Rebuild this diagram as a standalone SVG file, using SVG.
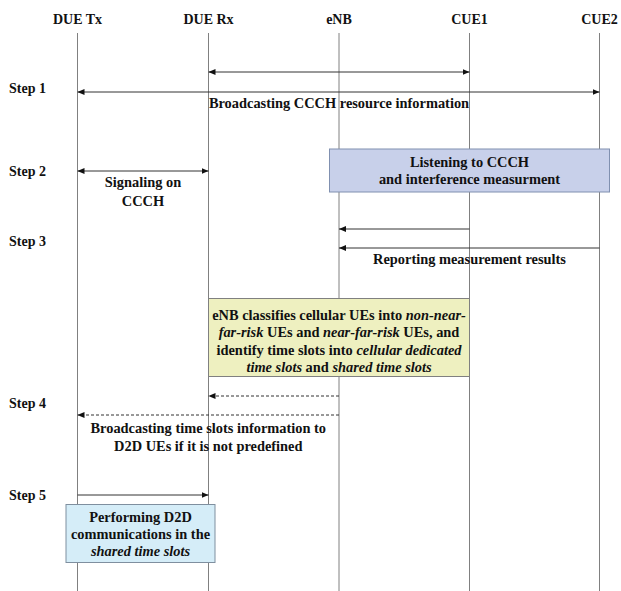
<svg xmlns="http://www.w3.org/2000/svg" width="621" height="591" viewBox="0 0 621 591">
<style>
text{font-family:"Liberation Serif","Times New Roman",serif;font-weight:bold;fill:#111;}
.hd{font-size:14px;text-anchor:middle;}
.st{font-size:14px;}
.tx{font-size:14.4px;text-anchor:middle;}
.life{stroke:#808080;stroke-width:1;fill:none;}
.msg{stroke:#333;stroke-width:1;fill:none;}
.dash{stroke-dasharray:3 2;}
.it{font-style:italic;}
</style>
<defs>
<marker id="ah" viewBox="0 0 7 6" refX="7" refY="3" markerWidth="7" markerHeight="6" markerUnits="userSpaceOnUse" orient="auto-start-reverse">
<path d="M0,0 L7,3 L0,6 z" fill="#111"/>
</marker>
</defs>
<rect width="621" height="591" fill="#fff"/>
<g id="lifelines">
<g id="due-tx"><text class="hd" x="77.5" y="24">DUE Tx</text><line class="life" x1="77.5" y1="33" x2="77.5" y2="591"/></g>
<g id="due-rx"><text class="hd" x="208.5" y="24">DUE Rx</text><line class="life" x1="208.5" y1="33" x2="208.5" y2="591"/></g>
<g id="enb"><text class="hd" x="339" y="24">eNB</text><line class="life" x1="339" y1="33" x2="339" y2="591"/></g>
<g id="cue1"><text class="hd" x="469.5" y="24">CUE1</text><line class="life" x1="469.5" y1="33" x2="469.5" y2="591"/></g>
<g id="cue2"><text class="hd" x="599.5" y="24">CUE2</text><line class="life" x1="599.5" y1="33" x2="599.5" y2="591"/></g>
</g>
<g id="steps">
<text class="st" x="9" y="93">Step 1</text>
<text class="st" x="9" y="176">Step 2</text>
<text class="st" x="9" y="246">Step 3</text>
<text class="st" x="9" y="408">Step 4</text>
<text class="st" x="9" y="500">Step 5</text>
</g>
<g id="connectors">
<line class="msg" x1="208.5" y1="72" x2="469.5" y2="72" marker-start="url(#ah)" marker-end="url(#ah)"/>
<line class="msg" x1="77.5" y1="92" x2="599.5" y2="92" marker-start="url(#ah)" marker-end="url(#ah)"/>
<line class="msg" x1="77.5" y1="171" x2="208.5" y2="171" marker-start="url(#ah)" marker-end="url(#ah)"/>
<line class="msg" x1="469.5" y1="229" x2="339" y2="229" marker-end="url(#ah)"/>
<line class="msg" x1="599.5" y1="248" x2="339" y2="248" marker-end="url(#ah)"/>
<line class="msg dash" x1="339" y1="396" x2="208.5" y2="396" marker-end="url(#ah)"/>
<line class="msg dash" x1="339" y1="415" x2="77.5" y2="415" marker-end="url(#ah)"/>
<line class="msg" x1="77.5" y1="495" x2="208.5" y2="495" marker-end="url(#ah)"/>
</g>
<g id="labels">
<text class="tx" x="339" y="108">Broadcasting CCCH resource information</text>
<text class="tx" x="143" y="187">Signaling on</text>
<text class="tx" x="143" y="206">CCCH</text>
<text class="tx" x="469.5" y="264">Reporting measurement results</text>
<text class="tx" x="208.3" y="433">Broadcasting time slots information to</text>
<text class="tx" x="208.3" y="451">D2D UEs if it is not predefined</text>
</g>
<g id="listening">
<rect x="329.5" y="149" width="280" height="43" fill="#c8d0ea" stroke="#8090b0" stroke-width="1"/>
<text class="tx" x="469.5" y="167">Listening to CCCH</text>
<text class="tx" x="469.5" y="184">and interference measurment</text>
</g>
<g id="classify">
<rect x="208.5" y="298.5" width="261" height="78" fill="#eef0c0" stroke="#808080" stroke-width="1"/>
<text class="tx" x="339" y="319.5">eNB classifies cellular UEs into <tspan class="it">non-near-</tspan></text>
<text class="tx" x="339" y="337.3"><tspan class="it">far-risk</tspan> UEs and <tspan class="it">near-far-risk</tspan> UEs, and</text>
<text class="tx" x="339" y="355">identify time slots into <tspan class="it">cellular dedicated</tspan></text>
<text class="tx" x="339" y="372"><tspan class="it">time slots</tspan> and <tspan class="it">shared time slots</tspan></text>
</g>
<g id="d2d">
<rect x="66" y="504.5" width="149" height="58" fill="#d5edf8" stroke="#7f8f9f" stroke-width="1"/>
<text class="tx" x="140.5" y="522">Performing D2D</text>
<text class="tx" x="140.5" y="539">communications in the</text>
<text class="tx it" x="140.5" y="556">shared time slots</text>
</g>
</svg>
